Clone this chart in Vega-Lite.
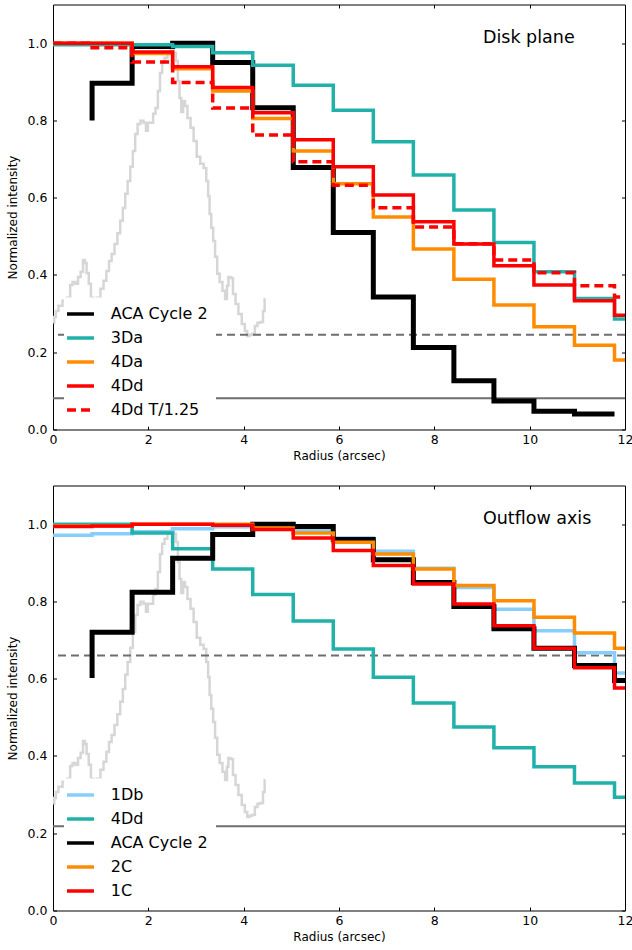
{
  "$schema": "https://vega.github.io/schema/vega-lite/v6.json",
  "padding": {"left": 5, "top": 3.5, "right": 5, "bottom": 5},
  "config": {
    "font": "DejaVu Sans",
    "view": {"stroke": "black", "strokeWidth": 1},
    "axis": {"labelFont": "DejaVu Sans", "labelFontSize": 12.5, "labelColor": "black", "titleFont": "DejaVu Sans", "titleFontSize": 12, "titleFontWeight": "normal", "titleColor": "black", "tickColor": "black", "domain": false, "grid": false, "tickSize": -3.5, "tickWidth": 1, "labelFlush": false, "labelOverlap": false}
  },
  "spacing": 22,
  "resolve": {"scale": {"color": "independent", "strokeDash": "independent"}, "legend": {"color": "independent", "strokeDash": "independent"}},
  "datasets": {
    "one": [{"k": 1}],
    "profile": [
      {"x": 0.01, "y": 0.276}, {"x": 0.04, "y": 0.291}, {"x": 0.08, "y": 0.307}, {"x": 0.15, "y": 0.320}, {"x": 0.25, "y": 0.333}, {"x": 0.34, "y": 0.341}, {"x": 0.38, "y": 0.374}, {"x": 0.44, "y": 0.382}, {"x": 0.50, "y": 0.377}, {"x": 0.55, "y": 0.395}, {"x": 0.61, "y": 0.408}, {"x": 0.65, "y": 0.439}, {"x": 0.69, "y": 0.431}, {"x": 0.72, "y": 0.405}, {"x": 0.78, "y": 0.377}, {"x": 0.81, "y": 0.341}, {"x": 0.88, "y": 0.336}, {"x": 0.96, "y": 0.341}, {"x": 1.03, "y": 0.364}, {"x": 1.09, "y": 0.385}, {"x": 1.15, "y": 0.410}, {"x": 1.20, "y": 0.436}, {"x": 1.26, "y": 0.454}, {"x": 1.32, "y": 0.480}, {"x": 1.38, "y": 0.508}, {"x": 1.44, "y": 0.540}, {"x": 1.49, "y": 0.573}, {"x": 1.54, "y": 0.610}, {"x": 1.59, "y": 0.643}, {"x": 1.65, "y": 0.680}, {"x": 1.70, "y": 0.721}, {"x": 1.75, "y": 0.765}, {"x": 1.80, "y": 0.791}, {"x": 1.87, "y": 0.799}, {"x": 1.93, "y": 0.794}, {"x": 1.97, "y": 0.773}, {"x": 2.01, "y": 0.794}, {"x": 2.08, "y": 0.794}, {"x": 2.12, "y": 0.817}, {"x": 2.18, "y": 0.832}, {"x": 2.22, "y": 0.876}, {"x": 2.27, "y": 0.923}, {"x": 2.31, "y": 0.949}, {"x": 2.37, "y": 0.962}, {"x": 2.43, "y": 0.975}, {"x": 2.50, "y": 0.985}, {"x": 2.56, "y": 0.975}, {"x": 2.60, "y": 0.954}, {"x": 2.64, "y": 0.902}, {"x": 2.67, "y": 0.858}, {"x": 2.71, "y": 0.822}, {"x": 2.75, "y": 0.850}, {"x": 2.79, "y": 0.837}, {"x": 2.85, "y": 0.806}, {"x": 2.92, "y": 0.781}, {"x": 2.98, "y": 0.747}, {"x": 3.05, "y": 0.706}, {"x": 3.13, "y": 0.688}, {"x": 3.19, "y": 0.677}, {"x": 3.24, "y": 0.643}, {"x": 3.27, "y": 0.604}, {"x": 3.30, "y": 0.558}, {"x": 3.34, "y": 0.522}, {"x": 3.38, "y": 0.488}, {"x": 3.42, "y": 0.447}, {"x": 3.47, "y": 0.403}, {"x": 3.52, "y": 0.382}, {"x": 3.59, "y": 0.359}, {"x": 3.63, "y": 0.338}, {"x": 3.67, "y": 0.372}, {"x": 3.69, "y": 0.395}, {"x": 3.75, "y": 0.392}, {"x": 3.80, "y": 0.351}, {"x": 3.86, "y": 0.325}, {"x": 3.92, "y": 0.299}, {"x": 4.00, "y": 0.273}, {"x": 4.05, "y": 0.255}, {"x": 4.10, "y": 0.242}, {"x": 4.15, "y": 0.245}, {"x": 4.21, "y": 0.248}, {"x": 4.26, "y": 0.268}, {"x": 4.32, "y": 0.276}, {"x": 4.38, "y": 0.278}, {"x": 4.43, "y": 0.307}, {"x": 4.45, "y": 0.338}
    ],
    "top": [
      {"s": "ACA Cycle 2", "x": 0.82, "y": 0.80}, {"s": "ACA Cycle 2", "x": 1.66, "y": 0.896}, {"s": "ACA Cycle 2", "x": 2.51, "y": 0.991}, {"s": "ACA Cycle 2", "x": 3.35, "y": 1.0}, {"s": "ACA Cycle 2", "x": 4.19, "y": 0.950}, {"s": "ACA Cycle 2", "x": 5.04, "y": 0.833}, {"s": "ACA Cycle 2", "x": 5.88, "y": 0.678}, {"s": "ACA Cycle 2", "x": 6.72, "y": 0.510}, {"s": "ACA Cycle 2", "x": 7.56, "y": 0.343}, {"s": "ACA Cycle 2", "x": 8.41, "y": 0.212}, {"s": "ACA Cycle 2", "x": 9.25, "y": 0.126}, {"s": "ACA Cycle 2", "x": 10.09, "y": 0.074}, {"s": "ACA Cycle 2", "x": 10.94, "y": 0.047}, {"s": "ACA Cycle 2", "x": 11.78, "y": 0.040},
      {"s": "3Da", "x": 0, "y": 0.996}, {"s": "3Da", "x": 0.82, "y": 0.996}, {"s": "3Da", "x": 1.66, "y": 0.996}, {"s": "3Da", "x": 2.51, "y": 0.996}, {"s": "3Da", "x": 3.35, "y": 0.991}, {"s": "3Da", "x": 4.19, "y": 0.975}, {"s": "3Da", "x": 5.04, "y": 0.943}, {"s": "3Da", "x": 5.88, "y": 0.891}, {"s": "3Da", "x": 6.72, "y": 0.826}, {"s": "3Da", "x": 7.56, "y": 0.745}, {"s": "3Da", "x": 8.41, "y": 0.659}, {"s": "3Da", "x": 9.25, "y": 0.568}, {"s": "3Da", "x": 10.09, "y": 0.484}, {"s": "3Da", "x": 10.94, "y": 0.408}, {"s": "3Da", "x": 11.78, "y": 0.339}, {"s": "3Da", "x": 12.62, "y": 0.286},
      {"s": "4Da", "x": 0, "y": 1.0}, {"s": "4Da", "x": 0.82, "y": 1.0}, {"s": "4Da", "x": 1.66, "y": 1.0}, {"s": "4Da", "x": 2.51, "y": 0.973}, {"s": "4Da", "x": 3.35, "y": 0.934}, {"s": "4Da", "x": 4.19, "y": 0.876}, {"s": "4Da", "x": 5.04, "y": 0.805}, {"s": "4Da", "x": 5.88, "y": 0.721}, {"s": "4Da", "x": 6.72, "y": 0.636}, {"s": "4Da", "x": 7.56, "y": 0.550}, {"s": "4Da", "x": 8.41, "y": 0.467}, {"s": "4Da", "x": 9.25, "y": 0.389}, {"s": "4Da", "x": 10.09, "y": 0.322}, {"s": "4Da", "x": 10.94, "y": 0.266}, {"s": "4Da", "x": 11.78, "y": 0.218}, {"s": "4Da", "x": 12.62, "y": 0.180},
      {"s": "4Dd", "x": 0, "y": 1.0}, {"s": "4Dd", "x": 0.82, "y": 1.0}, {"s": "4Dd", "x": 1.66, "y": 1.0}, {"s": "4Dd", "x": 2.51, "y": 0.977}, {"s": "4Dd", "x": 3.35, "y": 0.939}, {"s": "4Dd", "x": 4.19, "y": 0.885}, {"s": "4Dd", "x": 5.04, "y": 0.820}, {"s": "4Dd", "x": 5.88, "y": 0.750}, {"s": "4Dd", "x": 6.72, "y": 0.680}, {"s": "4Dd", "x": 7.56, "y": 0.607}, {"s": "4Dd", "x": 8.41, "y": 0.538}, {"s": "4Dd", "x": 9.25, "y": 0.480}, {"s": "4Dd", "x": 10.09, "y": 0.424}, {"s": "4Dd", "x": 10.94, "y": 0.374}, {"s": "4Dd", "x": 11.78, "y": 0.333}, {"s": "4Dd", "x": 12.62, "y": 0.296},
      {"s": "4Dd T/1.25", "x": 0, "y": 1.0}, {"s": "4Dd T/1.25", "x": 0.82, "y": 1.0}, {"s": "4Dd T/1.25", "x": 1.66, "y": 0.988}, {"s": "4Dd T/1.25", "x": 2.51, "y": 0.951}, {"s": "4Dd T/1.25", "x": 3.35, "y": 0.898}, {"s": "4Dd T/1.25", "x": 4.19, "y": 0.832}, {"s": "4Dd T/1.25", "x": 5.04, "y": 0.762}, {"s": "4Dd T/1.25", "x": 5.88, "y": 0.693}, {"s": "4Dd T/1.25", "x": 6.72, "y": 0.632}, {"s": "4Dd T/1.25", "x": 7.56, "y": 0.574}, {"s": "4Dd T/1.25", "x": 8.41, "y": 0.524}, {"s": "4Dd T/1.25", "x": 9.25, "y": 0.481}, {"s": "4Dd T/1.25", "x": 10.09, "y": 0.439}, {"s": "4Dd T/1.25", "x": 10.94, "y": 0.406}, {"s": "4Dd T/1.25", "x": 11.78, "y": 0.372}, {"s": "4Dd T/1.25", "x": 12.62, "y": 0.343}
    ],
    "bottom": [
      {"s": "1Db", "x": 0, "y": 0.971}, {"s": "1Db", "x": 0.82, "y": 0.971}, {"s": "1Db", "x": 1.66, "y": 0.975}, {"s": "1Db", "x": 2.51, "y": 0.980}, {"s": "1Db", "x": 3.35, "y": 0.988}, {"s": "1Db", "x": 4.19, "y": 0.993}, {"s": "1Db", "x": 5.04, "y": 0.996}, {"s": "1Db", "x": 5.88, "y": 0.983}, {"s": "1Db", "x": 6.72, "y": 0.964}, {"s": "1Db", "x": 7.56, "y": 0.930}, {"s": "1Db", "x": 8.41, "y": 0.886}, {"s": "1Db", "x": 9.25, "y": 0.836}, {"s": "1Db", "x": 10.09, "y": 0.780}, {"s": "1Db", "x": 10.94, "y": 0.724}, {"s": "1Db", "x": 11.78, "y": 0.667}, {"s": "1Db", "x": 12.62, "y": 0.615},
      {"s": "4Dd", "x": 0, "y": 1.0}, {"s": "4Dd", "x": 0.82, "y": 1.0}, {"s": "4Dd", "x": 1.66, "y": 1.0}, {"s": "4Dd", "x": 2.51, "y": 0.977}, {"s": "4Dd", "x": 3.35, "y": 0.936}, {"s": "4Dd", "x": 4.19, "y": 0.884}, {"s": "4Dd", "x": 5.04, "y": 0.818}, {"s": "4Dd", "x": 5.88, "y": 0.749}, {"s": "4Dd", "x": 6.72, "y": 0.677}, {"s": "4Dd", "x": 7.56, "y": 0.604}, {"s": "4Dd", "x": 8.41, "y": 0.537}, {"s": "4Dd", "x": 9.25, "y": 0.475}, {"s": "4Dd", "x": 10.09, "y": 0.421}, {"s": "4Dd", "x": 10.94, "y": 0.372}, {"s": "4Dd", "x": 11.78, "y": 0.330}, {"s": "4Dd", "x": 12.62, "y": 0.293},
      {"s": "ACA Cycle 2", "x": 0.82, "y": 0.602}, {"s": "ACA Cycle 2", "x": 1.66, "y": 0.720}, {"s": "ACA Cycle 2", "x": 2.51, "y": 0.824}, {"s": "ACA Cycle 2", "x": 3.35, "y": 0.912}, {"s": "ACA Cycle 2", "x": 4.19, "y": 0.973}, {"s": "ACA Cycle 2", "x": 5.04, "y": 1.0}, {"s": "ACA Cycle 2", "x": 5.88, "y": 0.994}, {"s": "ACA Cycle 2", "x": 6.72, "y": 0.960}, {"s": "ACA Cycle 2", "x": 7.56, "y": 0.908}, {"s": "ACA Cycle 2", "x": 8.41, "y": 0.849}, {"s": "ACA Cycle 2", "x": 9.25, "y": 0.787}, {"s": "ACA Cycle 2", "x": 10.09, "y": 0.729}, {"s": "ACA Cycle 2", "x": 10.94, "y": 0.679}, {"s": "ACA Cycle 2", "x": 11.78, "y": 0.634}, {"s": "ACA Cycle 2", "x": 12.62, "y": 0.595},
      {"s": "2C", "x": 0, "y": 0.995}, {"s": "2C", "x": 0.82, "y": 0.995}, {"s": "2C", "x": 1.66, "y": 0.995}, {"s": "2C", "x": 2.51, "y": 1.0}, {"s": "2C", "x": 3.35, "y": 1.0}, {"s": "2C", "x": 4.19, "y": 1.0}, {"s": "2C", "x": 5.04, "y": 0.990}, {"s": "2C", "x": 5.88, "y": 0.977}, {"s": "2C", "x": 6.72, "y": 0.953}, {"s": "2C", "x": 7.56, "y": 0.923}, {"s": "2C", "x": 8.41, "y": 0.884}, {"s": "2C", "x": 9.25, "y": 0.841}, {"s": "2C", "x": 10.09, "y": 0.802}, {"s": "2C", "x": 10.94, "y": 0.759}, {"s": "2C", "x": 11.78, "y": 0.718}, {"s": "2C", "x": 12.62, "y": 0.679},
      {"s": "1C", "x": 0, "y": 0.994}, {"s": "1C", "x": 0.82, "y": 0.994}, {"s": "1C", "x": 1.66, "y": 0.995}, {"s": "1C", "x": 2.51, "y": 1.0}, {"s": "1C", "x": 3.35, "y": 1.0}, {"s": "1C", "x": 4.19, "y": 0.997}, {"s": "1C", "x": 5.04, "y": 0.986}, {"s": "1C", "x": 5.88, "y": 0.964}, {"s": "1C", "x": 6.72, "y": 0.932}, {"s": "1C", "x": 7.56, "y": 0.893}, {"s": "1C", "x": 8.41, "y": 0.845}, {"s": "1C", "x": 9.25, "y": 0.793}, {"s": "1C", "x": 10.09, "y": 0.737}, {"s": "1C", "x": 10.94, "y": 0.679}, {"s": "1C", "x": 11.78, "y": 0.628}, {"s": "1C", "x": 12.62, "y": 0.576}
    ],
    "labels_top": [{"x": 9.02, "y": 1.0, "label": "Disk plane"}],
    "labels_bottom": [{"x": 9.02, "y": 1.0, "label": "Outflow axis"}]
  },
  "vconcat": [
    {
      "width": 572,
      "height": 425,
      "resolve": {"scale": {"x": "independent", "y": "independent"}},
      "layer": [
        {
          "data": {"name": "profile"},
          "mark": {"type": "line", "interpolate": "step", "color": "#d6d6d6", "strokeWidth": 2.5, "clip": true},
          "encoding": {
            "x": {"field": "x", "type": "quantitative", "scale": {"domain": [0, 12], "nice": false}, "axis": {"orient": "top", "labels": false, "title": null, "values": [0, 2, 4, 6, 8, 10, 12]}},
            "y": {"field": "y", "type": "quantitative", "scale": {"domain": [0, 1.1], "nice": false}, "axis": {"orient": "right", "labels": false, "title": null, "values": [0, 0.2, 0.4, 0.6, 0.8, 1.0]}}
          }
        },
        {
          "data": {"name": "one"},
          "mark": {"type": "rule", "color": "#6e6e6e", "strokeWidth": 2, "strokeDash": [8, 5]},
          "encoding": {"y": {"datum": 0.245, "type": "quantitative", "scale": {"domain": [0, 1.1], "nice": false}, "axis": null}}
        },
        {
          "data": {"name": "one"},
          "mark": {"type": "rule", "color": "#6e6e6e", "strokeWidth": 2},
          "encoding": {"y": {"datum": 0.081, "type": "quantitative", "scale": {"domain": [0, 1.1], "nice": false}, "axis": null}}
        },
        {
          "data": {"name": "top"},
          "mark": {"type": "line", "interpolate": "step-before", "clip": true},
          "encoding": {
            "x": {"field": "x", "type": "quantitative", "scale": {"domain": [0, 12], "nice": false}, "axis": {"orient": "bottom", "title": "Radius (arcsec)", "values": [0, 2, 4, 6, 8, 10, 12], "format": "d", "labelPadding": 7, "titlePadding": 5}},
            "y": {"field": "y", "type": "quantitative", "scale": {"domain": [0, 1.1], "nice": false}, "axis": {"orient": "left", "title": "Normalized intensity", "values": [0, 0.2, 0.4, 0.6, 0.8, 1.0], "format": ".1f", "labelPadding": 9.5, "titlePadding": 8}},
            "color": {
              "field": "s", "type": "nominal",
              "scale": {"domain": ["ACA Cycle 2", "3Da", "4Da", "4Dd", "4Dd T/1.25"], "range": ["#000000", "#20B2AA", "#FF8C00", "#FF0000", "#FF0000"]},
              "legend": {"title": null, "orient": "none", "legendX": 11, "legendY": 293, "fillColor": "white", "padding": 8, "symbolType": "M-2,0H2", "symbolSize": 182, "symbolStrokeWidth": 3.5, "labelFont": "DejaVu Sans", "labelFontSize": 16, "labelColor": "black", "labelOffset": 21.75, "rowPadding": 7, "labelLimit": 300}
            },
            "strokeDash": {
              "field": "s", "type": "nominal",
              "scale": {"domain": ["ACA Cycle 2", "3Da", "4Da", "4Dd", "4Dd T/1.25"], "range": [[1, 0], [1, 0], [1, 0], [1, 0], [9, 5]]},
              "legend": {"title": null, "orient": "none", "legendX": 11, "legendY": 293, "fillColor": "white", "padding": 8, "symbolType": "M-2,0H2", "symbolSize": 182, "symbolStrokeWidth": 3.5, "labelFont": "DejaVu Sans", "labelFontSize": 16, "labelColor": "black", "labelOffset": 21.75, "rowPadding": 7, "labelLimit": 300}
            },
            "strokeWidth": {"condition": {"test": "datum.s === 'ACA Cycle 2'", "value": 5}, "value": 3.5}
          }
        },
        {
          "data": {"name": "labels_top"},
          "mark": {"type": "text", "align": "left", "baseline": "alphabetic", "fontSize": 17.5, "font": "DejaVu Sans", "color": "black"},
          "encoding": {
            "x": {"field": "x", "type": "quantitative", "scale": {"domain": [0, 12], "nice": false}, "axis": null},
            "y": {"field": "y", "type": "quantitative", "scale": {"domain": [0, 1.1], "nice": false}, "axis": null},
            "text": {"field": "label"}
          }
        }
      ]
    },
    {
      "width": 572,
      "height": 425,
      "resolve": {"scale": {"x": "independent", "y": "independent"}},
      "layer": [
        {
          "data": {"name": "profile"},
          "mark": {"type": "line", "interpolate": "step", "color": "#d6d6d6", "strokeWidth": 2.5, "clip": true},
          "encoding": {
            "x": {"field": "x", "type": "quantitative", "scale": {"domain": [0, 12], "nice": false}, "axis": {"orient": "top", "labels": false, "title": null, "values": [0, 2, 4, 6, 8, 10, 12]}},
            "y": {"field": "y", "type": "quantitative", "scale": {"domain": [0, 1.1], "nice": false}, "axis": {"orient": "right", "labels": false, "title": null, "values": [0, 0.2, 0.4, 0.6, 0.8, 1.0]}}
          }
        },
        {
          "data": {"name": "one"},
          "mark": {"type": "rule", "color": "#6e6e6e", "strokeWidth": 2, "strokeDash": [8, 5]},
          "encoding": {"y": {"datum": 0.66, "type": "quantitative", "scale": {"domain": [0, 1.1], "nice": false}, "axis": null}}
        },
        {
          "data": {"name": "one"},
          "mark": {"type": "rule", "color": "#6e6e6e", "strokeWidth": 2},
          "encoding": {"y": {"datum": 0.218, "type": "quantitative", "scale": {"domain": [0, 1.1], "nice": false}, "axis": null}}
        },
        {
          "data": {"name": "bottom"},
          "mark": {"type": "line", "interpolate": "step-before", "clip": true},
          "encoding": {
            "x": {"field": "x", "type": "quantitative", "scale": {"domain": [0, 12], "nice": false}, "axis": {"orient": "bottom", "title": "Radius (arcsec)", "values": [0, 2, 4, 6, 8, 10, 12], "format": "d", "labelPadding": 7, "titlePadding": 5}},
            "y": {"field": "y", "type": "quantitative", "scale": {"domain": [0, 1.1], "nice": false}, "axis": {"orient": "left", "title": "Normalized intensity", "values": [0, 0.2, 0.4, 0.6, 0.8, 1.0], "format": ".1f", "labelPadding": 9.5, "titlePadding": 8}},
            "color": {
              "field": "s", "type": "nominal",
              "scale": {"domain": ["1Db", "4Dd", "ACA Cycle 2", "2C", "1C"], "range": ["#87CEFA", "#20B2AA", "#000000", "#FF8C00", "#FF0000"]},
              "legend": {"title": null, "orient": "none", "legendX": 11, "legendY": 293, "fillColor": "white", "padding": 8, "symbolType": "M-2,0H2", "symbolSize": 182, "symbolStrokeWidth": 3.5, "labelFont": "DejaVu Sans", "labelFontSize": 16, "labelColor": "black", "labelOffset": 21.75, "rowPadding": 7, "labelLimit": 300}
            },
            "strokeWidth": {"condition": {"test": "datum.s === 'ACA Cycle 2'", "value": 5}, "value": 3.5}
          }
        },
        {
          "data": {"name": "labels_bottom"},
          "mark": {"type": "text", "align": "left", "baseline": "alphabetic", "fontSize": 17.5, "font": "DejaVu Sans", "color": "black"},
          "encoding": {
            "x": {"field": "x", "type": "quantitative", "scale": {"domain": [0, 12], "nice": false}, "axis": null},
            "y": {"field": "y", "type": "quantitative", "scale": {"domain": [0, 1.1], "nice": false}, "axis": null},
            "text": {"field": "label"}
          }
        }
      ]
    }
  ]
}
